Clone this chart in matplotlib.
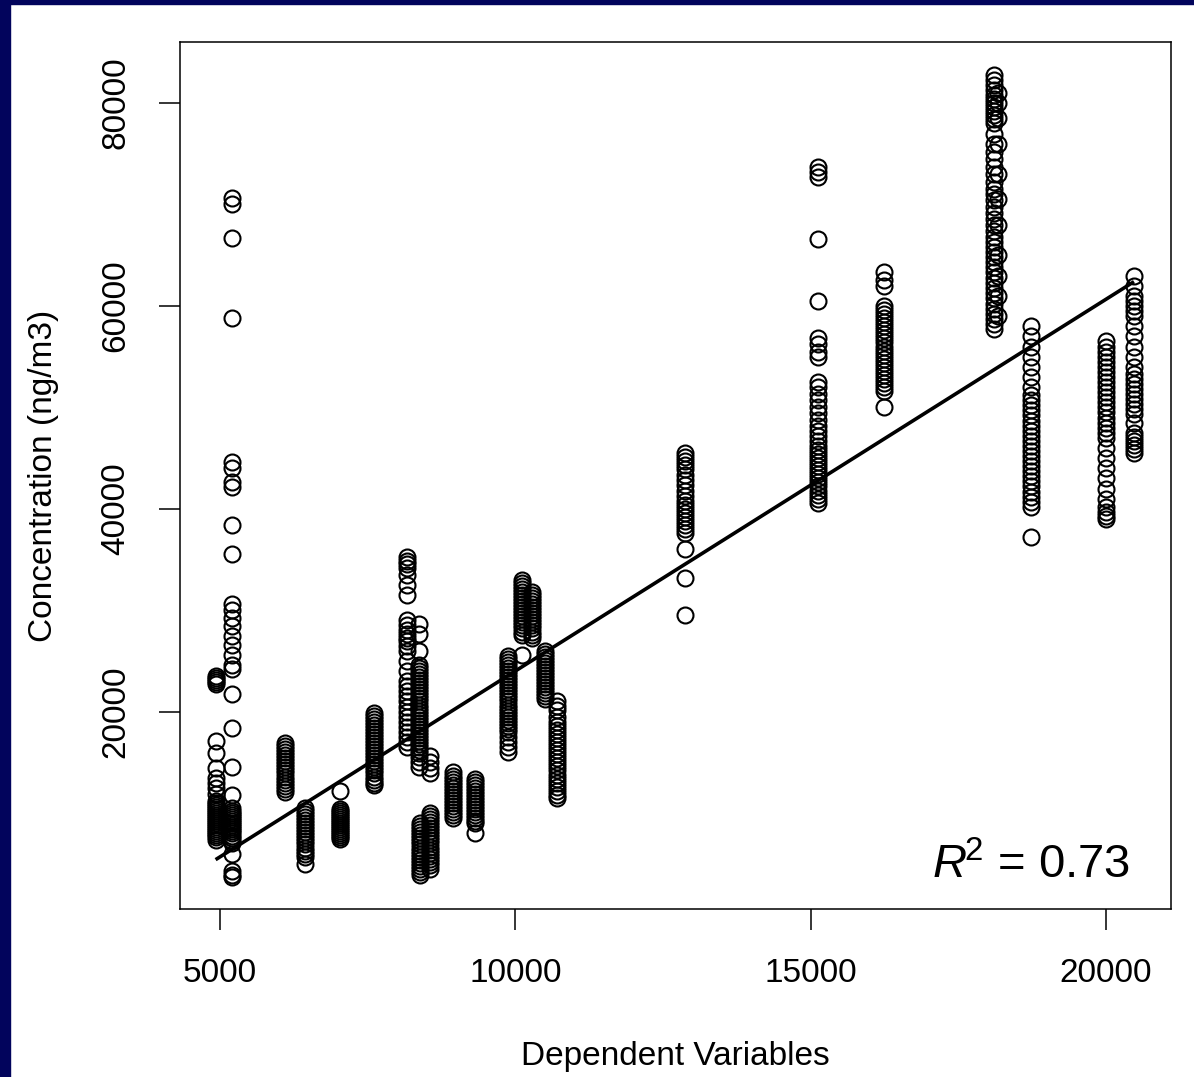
import matplotlib.pyplot as plt
from matplotlib.patches import Rectangle

# Concentration (ng/m3) readings grouped by dependent-variable value
x_vals = [4930, 5200, 6100, 6440, 7030, 7600, 8170, 8360, 8560, 8390,
          8560, 8950, 9320, 9880, 10120, 10280, 10510, 10700, 12880, 15120,
          16240, 18100, 18170, 18730, 20000, 20470]

y_4930 = [23500, 23300, 23100, 22900, 22700, 17100, 15900, 14400, 13500, 13000,
          12500, 11900, 11200, 11000, 10800, 10600, 10400, 10200, 10000, 9800,
          9600, 9400, 9200, 9000, 8800, 8600, 8400, 8200, 8000, 7800, 7600, 7300]
y_5200 = [70600, 70100, 66700, 58800, 44600, 44000, 42600, 42100, 38400, 35500,
          30600, 30000, 29200, 28400, 27500, 26600, 25600, 24600, 24200, 21700,
          18400, 14500, 11800, 10500, 10200, 10000, 9800, 9600, 9400, 9200, 9000,
          8800, 8600, 8400, 8200, 8000, 7700, 7500, 7200, 7000, 6000, 4300, 3900,
          3700]
y_6100 = [16900, 16600, 16300, 16000, 15700, 15400, 15100, 14800, 14500, 14200,
          13900, 13600, 13300, 13000, 12700, 12400, 12100]
y_6440 = [10500, 10200, 9900, 9600, 9300, 9000, 8700, 8400, 8100, 7800,
          7500, 7200, 6900, 6600, 6300, 6000, 5700, 5000]
y_7030 = [12200, 10400, 10200, 10000, 9800, 9600, 9400, 9200, 9000, 8800,
          8600, 8400, 8200, 8000, 7800, 7600, 7400]
y_7600 = [19900, 19600, 19300, 19000, 18700, 18400, 18100, 17800, 17500, 17200,
          16900, 16600, 16300, 16000, 15700, 15400, 15100, 14800, 14500, 14200,
          13900, 13600, 13300, 13000, 12800]
y_8170 = [35200, 34900, 34600, 34200, 33500, 32500, 31500, 29000, 28500, 28000,
          27700, 27300, 27000, 26500, 26000, 25000, 24000, 23000, 22500, 22000,
          21500, 21000, 20500, 20000, 19500, 19000, 18500, 18000, 17500, 17000,
          16500]
y_8360 = [28600, 27700, 26000, 24600, 24300, 24000, 23700, 23400, 23100, 22800,
          22500, 22200, 21900, 21600, 21300, 21000, 20700, 20400, 20100, 19800,
          19500, 19200, 18900, 18600, 18300, 18000, 17700, 17400, 17100, 16800,
          16500, 16200, 15900, 15500, 15000, 14500]
y_8560_hi = [15600, 15000, 14400, 13900]
y_8390_lo = [9000, 8700, 8400, 8100, 7800, 7500, 7200, 6900, 6600, 6300,
             6000, 5700, 5400, 5100, 4800, 4500, 4200, 3900]
y_8560_lo = [10000, 9700, 9400, 9100, 8800, 8500, 8200, 7900, 7600, 7300,
             7000, 6700, 6400, 6100, 5800, 5500, 5200, 4900, 4500]
y_8950 = [14000, 13700, 13400, 13100, 12800, 12500, 12200, 11900, 11600, 11300,
          11000, 10700, 10400, 10100, 9800, 9500]
y_9320 = [13400, 13100, 12800, 12500, 12200, 11900, 11600, 11300, 11000, 10700,
          10400, 10100, 9800, 9500, 9200, 9000, 8000]
y_9880 = [25500, 25200, 24900, 24600, 24300, 24000, 23700, 23400, 23100, 22800,
          22500, 22200, 21900, 21600, 21300, 21000, 20700, 20400, 20100, 19800,
          19500, 19200, 18900, 18600, 18300, 18000, 17500, 17000, 16500, 16000]
y_10120 = [33000, 32700, 32400, 32100, 31800, 31500, 31200, 30900, 30600, 30300,
           30000, 29700, 29400, 29100, 28800, 28500, 28200, 27900, 27600, 25600]
y_10280 = [31800, 31500, 31200, 30900, 30600, 30300, 30000, 29700, 29400, 29100,
           28800, 28500, 28200, 27900, 27600, 27300]
y_10510 = [26000, 25700, 25400, 25100, 24800, 24500, 24200, 23900, 23600, 23300,
           23000, 22700, 22400, 22100, 21800, 21500, 21200]
y_10700 = [21000, 20600, 20200, 19500, 19000, 18600, 18200, 17800, 17400, 17000,
           16600, 16200, 15800, 15400, 15000, 14600, 14200, 13800, 13400, 13000,
           12600, 12200, 11800, 11500]
y_12880 = [45500, 45100, 44700, 44300, 43900, 43300, 42800, 42300, 41800, 41300,
           40800, 40400, 40000, 39600, 39200, 38800, 38400, 38000, 37600, 36000,
           33200, 29500]
y_15120 = [73700, 73200, 72700, 66600, 60500, 56800, 56200, 55500, 55000, 52500,
           52000, 51300, 50700, 50000, 49400, 48800, 48200, 47700, 47200, 46700,
           46200, 45800, 45400, 45000, 44600, 44200, 43800, 43400, 43000, 42600,
           42200, 41800, 41400, 41000, 40600]
y_16240 = [63300, 62600, 62000, 60000, 59600, 59200, 58800, 58400, 58000, 57600,
           57200, 56800, 56400, 56000, 55600, 55200, 54800, 54400, 54000, 53600,
           53200, 52800, 52400, 52000, 51600, 50000]
y_18100 = [82800, 82300, 81800, 81300, 80800, 80400, 80000, 79600, 79200, 78800,
           78400, 78000, 77000, 76000, 75200, 74500, 73700, 73000, 72200, 71500,
           71000, 70400, 69800, 69200, 68600, 68000, 67400, 66800, 66300, 65800,
           65300, 64800, 64300, 63800, 63300, 62800, 62300, 61800, 61300, 60800,
           60200, 59700, 59200, 58700, 58200, 57700]
y_18170 = [81000, 80000, 78500, 76000, 73000, 70500, 68000, 65000, 63000, 61000,
           59000]
y_18730 = [58000, 57000, 56000, 55000, 54000, 53000, 52000, 51200, 50700, 50200,
           49700, 49200, 48700, 48200, 47700, 47200, 46700, 46200, 45700, 45200,
           44700, 44200, 43700, 43200, 42700, 42200, 41700, 41200, 40700, 40200,
           37200]
y_20000 = [56500, 56000, 55500, 55000, 54500, 54000, 53500, 53000, 52500, 52000,
           51500, 51000, 50500, 50000, 49500, 49000, 48500, 48000, 47500, 47000,
           46000, 45000, 44000, 43000, 42000, 41000, 40200, 39700, 39300, 39000]
y_20470 = [63000, 62000, 61000, 60500, 60000, 59500, 59000, 58000, 57000, 56000,
           55000, 54000, 53300, 52800, 52300, 51800, 51300, 50800, 50300, 49800,
           49300, 48500, 47500, 47100, 46700, 46300, 45900, 45500]

groups = [y_4930, y_5200, y_6100, y_6440, y_7030, y_7600, y_8170, y_8360, y_8560_hi,
          y_8390_lo, y_8560_lo, y_8950, y_9320, y_9880, y_10120, y_10280, y_10510,
          y_10700, y_12880, y_15120, y_16240, y_18100, y_18170, y_18730, y_20000,
          y_20470]

# fitted line
fit_x = [4950, 20450]
fit_y = [5500, 62300]
r2_label = "0.73"

xs, ys = [], []
for xv, g in zip(x_vals, groups):
    xs += [xv] * len(g)
    ys += g

plt.rcParams["font.family"] = ["Liberation Sans", "DejaVu Sans"]
plt.rcParams["mathtext.fontset"] = "custom"
plt.rcParams["mathtext.rm"] = "Liberation Sans"
plt.rcParams["mathtext.it"] = "Liberation Sans:italic"

fig = plt.figure(figsize=(11.94, 10.77), dpi=100)
ax = fig.add_axes([0.1508, 0.156, 0.8299, 0.805])

# slide background border
fig.patches.append(Rectangle((0, 0), 10 / 1194, 1, transform=fig.transFigure,
                             color="#02045c", zorder=0))
fig.patches.append(Rectangle((0, 1 - 4 / 1077), 1, 4 / 1077, transform=fig.transFigure,
                             color="#02045c", zorder=0))

ax.plot(xs, ys, "o", mfc="none", mec="black", ms=11.5, mew=1.5)
ax.plot(fit_x, fit_y, color="black", lw=2.6)

ax.set_xlim(4322, 21102)
ax.set_ylim(540, 86025)
ax.set_xticks([5000, 10000, 15000, 20000])
ax.set_yticks([20000, 40000, 60000, 80000])
ax.tick_params(axis="both", direction="out", length=15, width=1.1, labelsize=24, pad=20)
for lab in ax.get_yticklabels():
    lab.set_rotation(90)
    lab.set_va("center")
for s in ax.spines.values():
    s.set_linewidth(1.1)

ax.set_xlabel("Dependent Variables", fontsize=24, labelpad=38)
ax.set_ylabel("Concentration (ng/m3)", fontsize=24, labelpad=30)

ax.text(0.9586, 0.0358, r"$R^{\!2}$ = " + r2_label, transform=ax.transAxes,
        ha="right", va="baseline", fontsize=34)

fig.savefig("out.png", dpi=100)
